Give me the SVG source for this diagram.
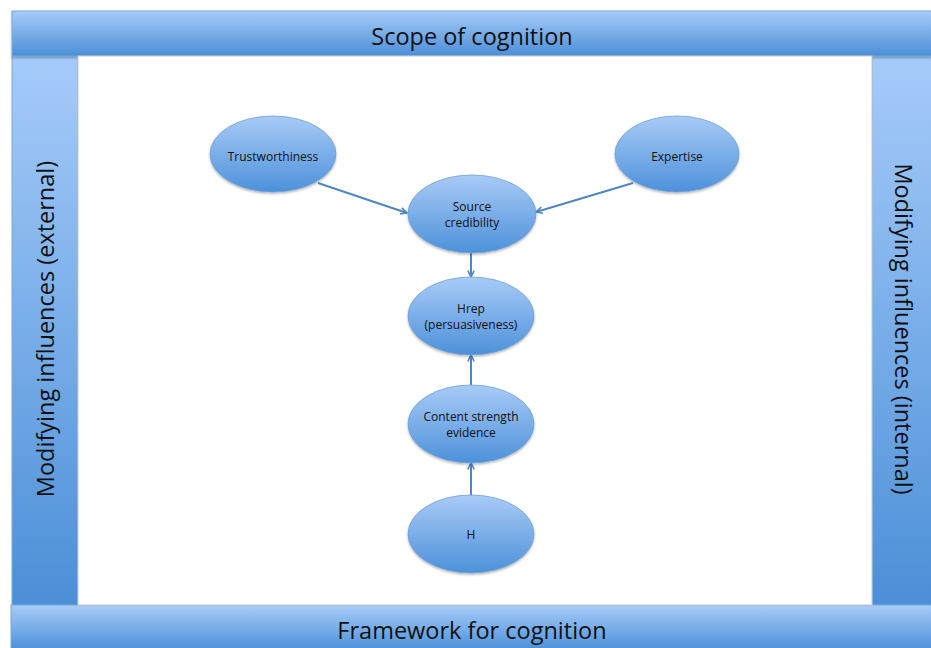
<svg xmlns="http://www.w3.org/2000/svg" width="931" height="648" viewBox="0 0 931 648">
  <defs>
    <linearGradient id="barGrad" x1="0" y1="0" x2="0" y2="1">
      <stop offset="0" stop-color="#a6cbfa"/>
      <stop offset="1" stop-color="#4b8fd7"/>
    </linearGradient>
    <linearGradient id="sideGrad" x1="0" y1="0" x2="0" y2="1">
      <stop offset="0" stop-color="#a6cbfa"/>
      <stop offset="1" stop-color="#4b8fd7"/>
    </linearGradient>
    <linearGradient id="nodeGrad" x1="0" y1="0" x2="0" y2="1">
      <stop offset="0" stop-color="#a8cbf7"/>
      <stop offset="1" stop-color="#4d91da"/>
    </linearGradient>
    <filter id="shadow" x="-10%" y="-10%" width="120%" height="130%">
      <feDropShadow dx="0" dy="1.5" stdDeviation="1.2" flood-color="#000" flood-opacity="0.3"/>
    </filter>
    <marker id="arrow" viewBox="0 0 10 10" refX="9" refY="5" markerWidth="8" markerHeight="8" orient="auto" markerUnits="userSpaceOnUse">
      <path d="M1,1 L9,5 L1,9" fill="none" stroke="#4f86c6" stroke-width="2"/>
    </marker>
    <style>
      .bar { fill: url(#barGrad); stroke: #7aa7dc; stroke-width: 1; }
      .side { fill: url(#sideGrad); stroke: #7aa7dc; stroke-width: 1; }
      .barText { font-family: "Open Sans", "Liberation Sans", sans-serif; font-size: 23.5px; fill: #111; text-anchor: middle; }
      .node ellipse { fill: url(#nodeGrad); stroke: #6d9fd8; stroke-width: 0.8; filter: url(#shadow); }
      .node text { font-family: "Open Sans", "Liberation Sans", sans-serif; font-size: 12px; fill: #111; text-anchor: middle; }
      .edge { stroke: #4f86c6; stroke-width: 2; fill: none; marker-end: url(#arrow); }
    </style>
  </defs>

  <rect x="0" y="0" width="931" height="648" fill="#ffffff"/>

  <!-- frame: side bars, then top and bottom bars -->
  <g id="frame">
    <rect class="side" x="12" y="56" width="66" height="550"/>
    <rect class="side" x="872" y="56" width="62" height="550"/>
    <rect class="bar" x="12" y="11" width="922" height="45" filter="url(#shadow)"/>
    <rect class="bar" x="11" y="605" width="923" height="46"/>
    <rect x="78" y="56" width="794" height="549" fill="#ffffff" stroke="#c8c8c8" stroke-width="1"/>
  </g>

  <g id="scope">
    <text class="barText" x="472" y="45">Scope of cognition</text>
  </g>
  <g id="framework">
    <text class="barText" x="472" y="639">Framework for cognition</text>
  </g>
  <g id="external">
    <text class="barText" transform="translate(54,329) rotate(-90)">Modifying influences (external)</text>
  </g>
  <g id="internal">
    <text class="barText" transform="translate(895,329) rotate(90)">Modifying influences (internal)</text>
  </g>

  <!-- connectors -->
  <g id="connectors">
    <line class="edge" x1="318" y1="183" x2="407" y2="213"/>
    <line class="edge" x1="633" y1="183" x2="536" y2="212"/>
    <line class="edge" x1="471" y1="253" x2="471" y2="277"/>
    <line class="edge" x1="471" y1="385" x2="471" y2="355"/>
    <line class="edge" x1="471" y1="495" x2="471" y2="463"/>
  </g>

  <!-- nodes -->
  <g id="trustworthiness" class="node">
    <ellipse cx="273" cy="154" rx="63" ry="38"/>
    <text x="273" y="161">Trustworthiness</text>
  </g>
  <g id="expertise" class="node">
    <ellipse cx="677" cy="154" rx="62" ry="38"/>
    <text x="677" y="161">Expertise</text>
  </g>
  <g id="source-credibility" class="node">
    <ellipse cx="472" cy="214" rx="64" ry="39"/>
    <text x="472" y="211">Source</text>
    <text x="472" y="227">credibility</text>
  </g>
  <g id="hrep" class="node">
    <ellipse cx="471" cy="316" rx="63" ry="39"/>
    <text x="471" y="313">Hrep</text>
    <text x="471" y="329">(persuasiveness)</text>
  </g>
  <g id="content-strength" class="node">
    <ellipse cx="471" cy="424" rx="63" ry="39"/>
    <text x="471" y="421">Content strength</text>
    <text x="471" y="437">evidence</text>
  </g>
  <g id="h" class="node">
    <ellipse cx="471" cy="534" rx="63" ry="39"/>
    <text x="471" y="539">H</text>
  </g>
</svg>
